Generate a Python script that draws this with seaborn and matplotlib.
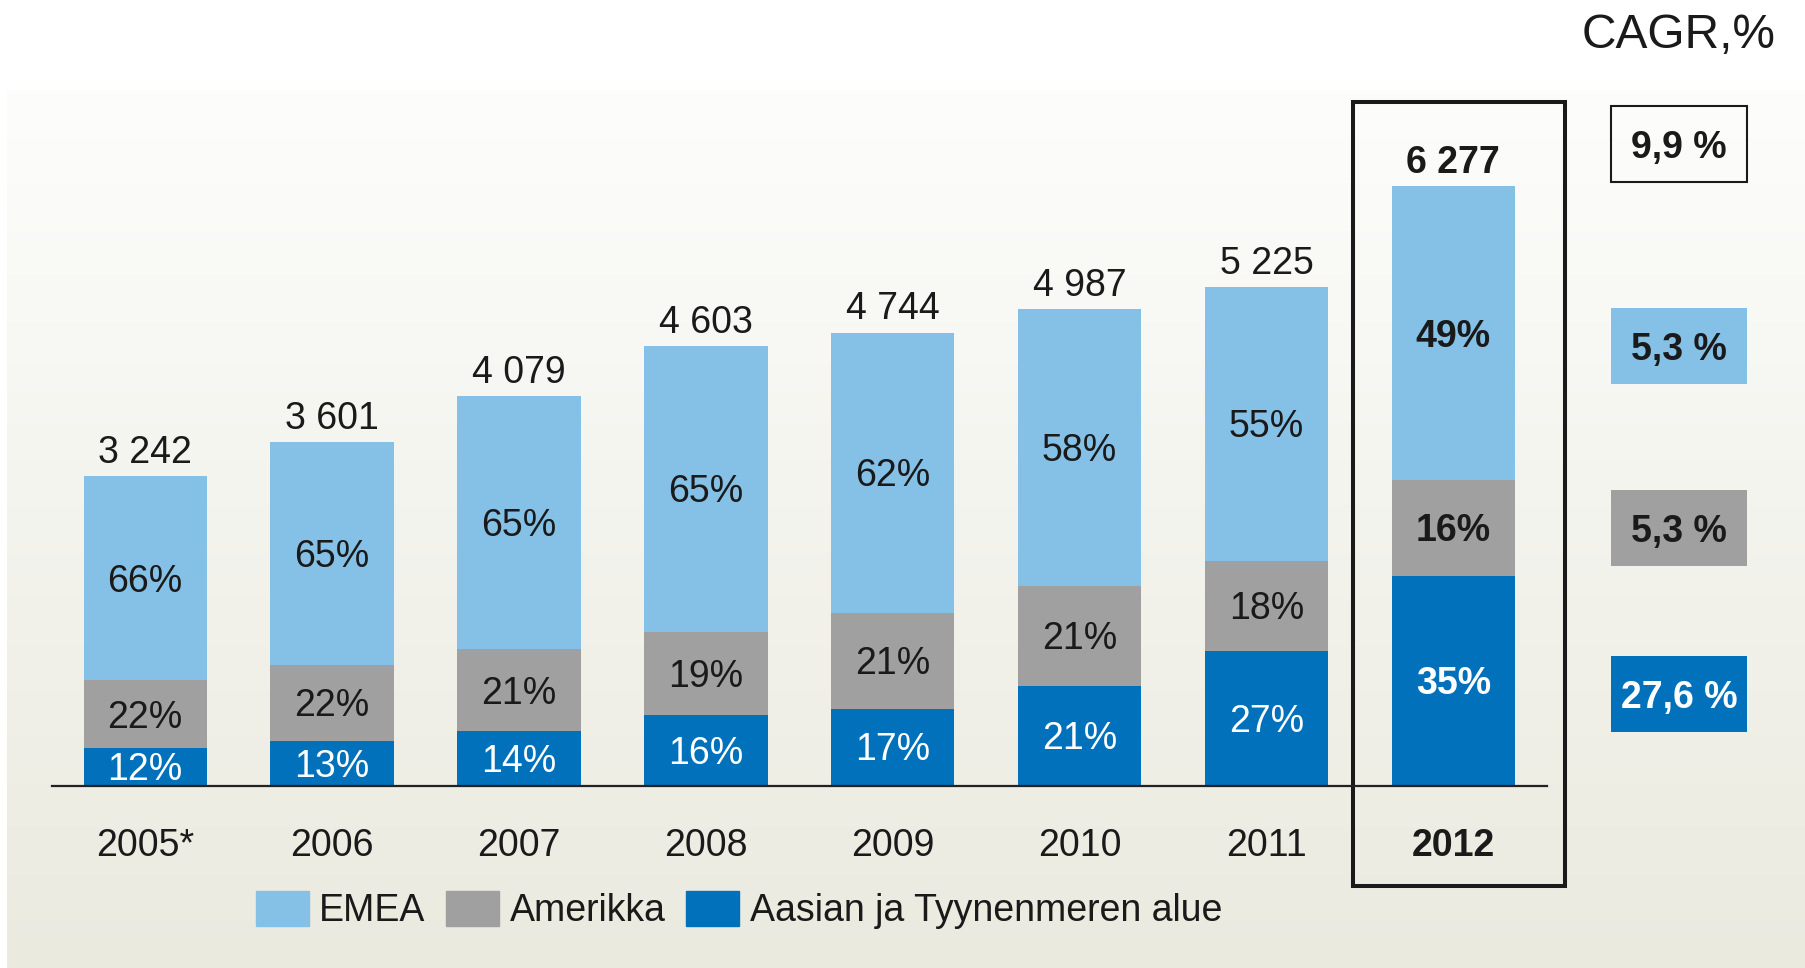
import numpy as np
import matplotlib.pyplot as plt
import seaborn as sns
from matplotlib.patches import Patch, Rectangle
from matplotlib.colors import LinearSegmentedColormap

# --- data ---
years = ["2005*", "2006", "2007", "2008", "2009", "2010", "2011", "2012"]
totals = [3242, 3601, 4079, 4603, 4744, 4987, 5225, 6277]
emea_pct = [66, 65, 65, 65, 62, 58, 55, 49]
amer_pct = [22, 22, 21, 19, 21, 21, 18, 16]
apac_pct = [12, 13, 14, 16, 17, 21, 27, 35]
series_names = ["EMEA", "Amerikka", "Aasian ja Tyynenmeren alue"]
cagr_labels = ["9,9 %", "5,3 %", "5,3 %", "27,6 %"]

c_emea, c_amer, c_apac = "#85C1E6", "#A0A0A0", "#0071BA"
txt = "#1a1a1a"

sns.set_style("white")
plt.rcParams["font.family"] = ["Liberation Sans", "DejaVu Sans"]

W, H = 1806, 968
fig = plt.figure(figsize=(W / 100, H / 100), dpi=100)
fig.patch.set_facecolor("white")

# soft vertical gradient background
bg = fig.add_axes([7 / W, 0, 1 - 7 / W, (H - 90) / H], zorder=-5)
grad = np.linspace(0, 1, 256).reshape(-1, 1)
cmap = LinearSegmentedColormap.from_list("bg", ["#FDFDFC", "#EAEADF"])
bg.imshow(grad, aspect="auto", cmap=cmap, extent=[0, 1, 0, 1], origin="upper")
bg.axis("off")

ax = fig.add_axes([51.8 / W, (H - 785.5) / H, 1495 / W, (785.5 - 60) / H])
ax.set_facecolor("none")

tot = np.array(totals, dtype=float)
apac_top = tot * np.array(apac_pct) / 100
amer_top = tot * (np.array(apac_pct) + np.array(amer_pct)) / 100

# stacked bars by overdrawing cumulative heights
for vals, col in [(tot, c_emea), (amer_top, c_amer), (apac_top, c_apac)]:
    sns.barplot(x=years, y=vals, color=col, saturation=1, width=0.66,
                errorbar=None, ax=ax, linewidth=0)

ax.set_xlim(-0.5, 7.5)
ax.set_ylim(0, 7600)
ax.set_yticks([])
ax.set_ylabel("")
for s in ["top", "left", "right"]:
    ax.spines[s].set_visible(False)
ax.spines["bottom"].set_color("#222222")
ax.spines["bottom"].set_linewidth(1.6)
ax.tick_params(axis="x", length=0, pad=30.5, labelsize=27, colors=txt)
ax.get_xticklabels()[-1].set_fontweight("bold")

fs = 27
half_cap = 0.716 * fs / 2
for i in range(len(years)):
    bold = "bold" if i == len(years) - 1 else "normal"
    ax.annotate(f"{totals[i] // 1000} {totals[i] % 1000:03d}", (i, tot[i]),
                xytext=(0, 9.5), textcoords="offset points", ha="center",
                va="baseline", fontsize=fs, color=txt, fontweight=bold)
    segs = [((amer_top[i] + tot[i]) / 2, emea_pct[i], txt),
            ((apac_top[i] + amer_top[i]) / 2, amer_pct[i], txt),
            (apac_top[i] / 2, apac_pct[i], "white")]
    for yc, p, col in segs:
        ax.annotate(f"{p}%", (i, yc), xytext=(0, -half_cap),
                    textcoords="offset points", ha="center", va="baseline",
                    fontsize=fs, color=col, fontweight=bold)

# highlight frame around 2012
ax.add_patch(Rectangle((6.465, -1053), 7.597 - 6.465, 7165 + 1053, fill=False,
                       edgecolor="#1a1a1a", linewidth=2.9, clip_on=False))

# legend
handles = [Patch(color=c) for c in (c_emea, c_amer, c_apac)]
fig.legend(handles, series_names, loc="center left",
           bbox_to_anchor=(256 / W, 1 - 910 / H), ncol=3, frameon=False,
           fontsize=fs, handlelength=1.41, handleheight=1.07,
           handletextpad=0.28, columnspacing=0.55, borderpad=0,
           borderaxespad=0, labelcolor=txt)

# CAGR panel
fig.text(1679 / W, 1 - 47.7 / H, "CAGR,%", ha="center", va="baseline",
         fontsize=34.5, color=txt)
box_y = [(106, 182), (308, 384), (490, 566), (656, 732)]
box_face = ["none", c_emea, c_amer, c_apac]
box_text = [txt, txt, txt, "white"]
for (y0, y1), face, tc, lab in zip(box_y, box_face, box_text, cagr_labels):
    fig.add_artist(Rectangle((1611 / W, 1 - y1 / H), 136 / W, (y1 - y0) / H,
                             transform=fig.transFigure, facecolor=face,
                             edgecolor="#1a1a1a" if face == "none" else "none",
                             linewidth=1.5))
    fig.text(1679 / W, 1 - (y0 + y1) / 2 / H - 13.5 / H, lab, ha="center",
             va="baseline", fontsize=fs, fontweight="bold", color=tc)

fig.savefig("out.png", dpi=100)
